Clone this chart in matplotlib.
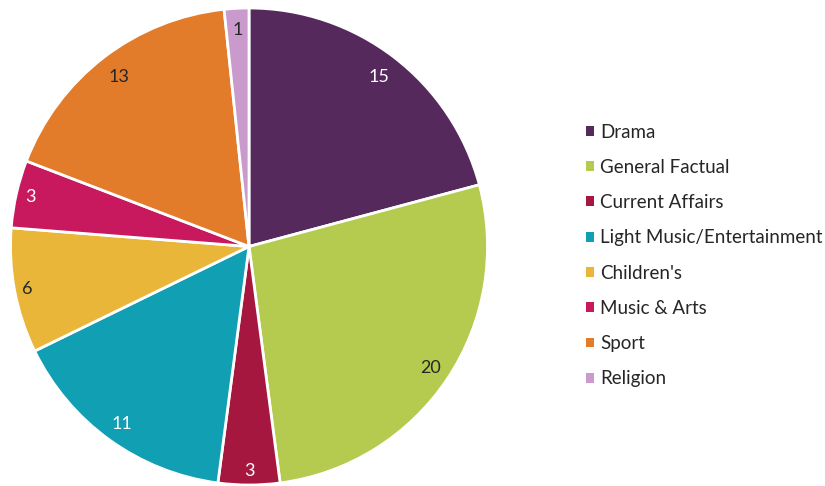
import matplotlib
matplotlib.use("Agg")
import numpy as np
import matplotlib.pyplot as plt
from matplotlib.patches import Patch

plt.rcParams['font.family'] = ['Lato', 'DejaVu Sans']

categories = ["Drama", "General Factual", "Current Affairs", "Light Music/Entertainment",
              "Children's", "Music & Arts", "Sport", "Religion"]
values = [15.0, 19.5, 3.0, 11.3, 6.1, 3.3, 12.6, 1.2]
colors = ["#55295B", "#B5CB50", "#A5173F", "#109FB3", "#E9B63A", "#C8195E", "#E27C2B", "#C99ACB"]
label_colors = ["white", "#262626", "white", "white", "#262626", "white", "#262626", "#262626"]

W, H = 825, 486
fig = plt.figure(figsize=(W / 100, H / 100), dpi=100)
cx, cy, r = 249, 246.5, 238.5
ax = fig.add_axes([(cx - r) / W, (H - cy - r) / H, 2 * r / W, 2 * r / H])

wedges, texts = ax.pie(values, labels=[f"{v:.0f}" for v in values], startangle=90,
                       counterclock=False, colors=colors, labeldistance=0.9, radius=1,
                       wedgeprops=dict(edgecolor="white", linewidth=2),
                       textprops=dict(fontsize=13))

# inside-end label placement, radial fraction per slice
label_radius = [0.895, 0.915, 0.94, 0.915, 0.945, 0.94, 0.895, 0.91]
for w, t, c, lr in zip(wedges, texts, label_colors, label_radius):
    ang = np.deg2rad((w.theta1 + w.theta2) / 2)
    t.set_position((lr * np.cos(ang), lr * np.sin(ang)))
    t.set_color(c)
    t.set_ha("center")
    t.set_va("center")
ax.set_xlim(-1, 1)
ax.set_ylim(-1, 1)
ax.set_aspect("equal")
ax.axis("off")

handles = [Patch(facecolor=c, edgecolor="none") for c in colors]
fig.legend(handles, categories, loc="center left", bbox_to_anchor=(586 / W, 1 - 255.5 / H),
           frameon=False, fontsize=13.5, handlelength=0.43, handleheight=0.43,
           handletextpad=0.33, labelspacing=0.975, borderpad=0, borderaxespad=0,
           labelcolor="#262626")

fig.savefig("out.png", dpi=100)
